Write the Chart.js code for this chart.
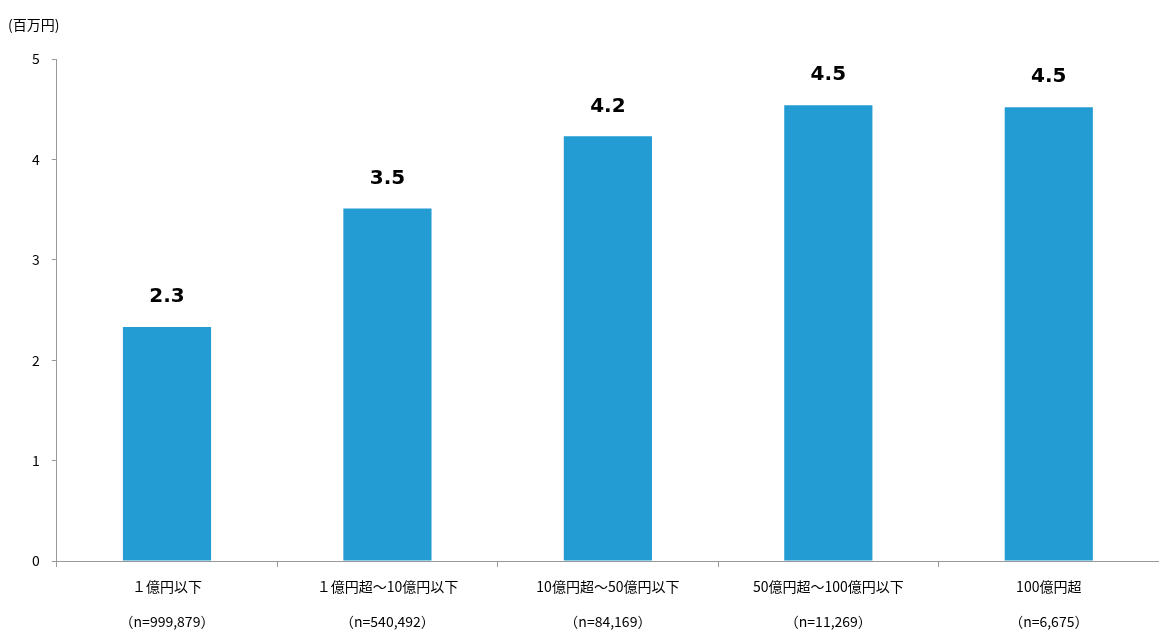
<!DOCTYPE html>
<html>
<head>
<meta charset="utf-8">
<script src="https://cdn.jsdelivr.net/npm/chart.js@4.4.0/dist/chart.umd.min.js"></script>
<style>
  html, body { margin: 0; padding: 0; background: #fff; }
  #wrap { position: relative; width: 1159px; height: 641px; }
  #unit { position: absolute; left: 8px; top: 14px; font: 14px "Noto Sans CJK JP", sans-serif; color: #000; }
</style>
</head>
<body>
<div id="wrap">
  <div id="unit">(百万円)</div>
  <canvas id="salaryChart" width="1159" height="641"></canvas>
</div>
<script>
var categories = ['１億円以下', '１億円超～10億円以下', '10億円超～50億円以下', '50億円超～100億円以下', '100億円超'];
var counts = ['（n=999,879）', '（n=540,492）', '（n=84,169）', '（n=11,269）', '（n=6,675）'];
var values = [2.33, 3.51, 4.23, 4.54, 4.52];
var valueLabels = ['2.3', '3.5', '4.2', '4.5', '4.5'];

var labelPlugin = {
    id: 'valueLabels',
    afterDatasetsDraw: function (chart) {
        var ctx = chart.ctx;
        var meta = chart.getDatasetMeta(0);
        ctx.save();
        ctx.font = 'bold 20px "DejaVu Sans", sans-serif';
        ctx.fillStyle = '#000';
        ctx.textAlign = 'center';
        ctx.textBaseline = 'bottom';
        meta.data.forEach(function (bar, i) {
            ctx.fillText(valueLabels[i], bar.x, bar.y - 20);
        });
        ctx.restore();
    }
};

var ctx = document.getElementById('salaryChart');
new Chart(ctx, {
    type: 'bar',
    data: {
        labels: categories.map(function (c, i) { return [c, counts[i]]; }),
        datasets: [{
            data: values,
            backgroundColor: '#239cd3',
            categoryPercentage: 1,
            barPercentage: 0.4
        }]
    },
    options: {
        responsive: false,
        animation: false,
        layout: { padding: { top: 59, right: 0, left: 20, bottom: 0 } },
        plugins: { legend: { display: false }, tooltip: { enabled: false } },
        scales: {
            x: {
                grid: { display: true, drawOnChartArea: false, offset: true, tickLength: 6, color: '#999' },
                border: { color: '#999' },
                ticks: {
                    color: '#000',
                    font: { size: 14, family: '"Noto Sans CJK JP", sans-serif', lineHeight: 2.5 },
                    maxRotation: 0,
                    autoSkip: false,
                    padding: 2
                }
            },
            y: {
                min: 0,
                max: 5,
                ticks: { stepSize: 1, color: '#000', font: { size: 14, family: '"Noto Sans CJK JP", sans-serif' }, padding: 12 },
                grid: { display: true, drawOnChartArea: false, tickLength: 5, color: '#999' },
                border: { color: '#999' }
            }
        }
    },
    plugins: [labelPlugin]
});
</script>
</body>
</html>
